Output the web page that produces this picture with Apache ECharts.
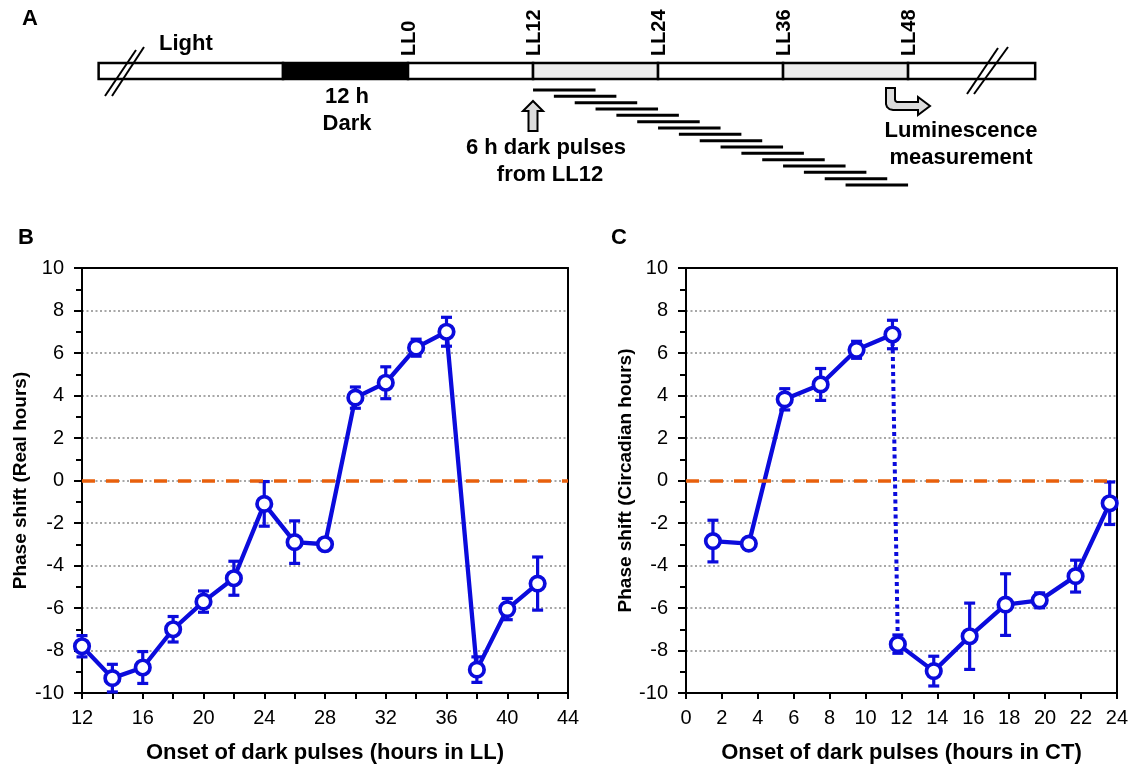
<!DOCTYPE html>
<html>
<head>
<meta charset="utf-8">
<script src="https://cdn.jsdelivr.net/npm/echarts@6/dist/echarts.min.js"></script>
<style>
html,body{margin:0;padding:0;background:#fff;}
#chart{width:1131px;height:769px;}
</style>
</head>
<body>
<div id="chart"></div>
<script>
// ---------- DATA ----------
// Panel A: light schedule (hours relative to LL0)
const scheduleStart = [-29.7, -12, 0, 12, 24, 36, 48];
const scheduleEnd   = [-12, 0, 12, 24, 36, 48, 60.2];
const scheduleKind  = ['light', 'dark', 'light', 'pulse', 'light', 'pulse', 'light'];
const llMarks = [0, 12, 24, 36, 48];
const pulseLength = 6;

// Panel B: onset (hours in LL), phase shift (real hours), error
const bOnset = [12, 14, 16, 18, 20, 22, 24, 26, 28, 30, 32, 34, 36, 38, 40, 42];
const bShift = [-7.8, -9.3, -8.8, -7.0, -5.7, -4.6, -1.1, -2.9, -3.0, 3.9, 4.6, 6.25, 7.0, -8.9, -6.05, -4.85];
const bErr   = [0.5, 0.65, 0.75, 0.6, 0.5, 0.8, 1.05, 1.0, 0.15, 0.5, 0.75, 0.4, 0.68, 0.6, 0.5, 1.25];

// Panel C: onset (hours in CT), phase shift (circadian hours), error
const cOnset = [1.5, 3.5, 5.5, 7.5, 9.5, 11.5, 11.8, 13.8, 15.8, 17.8, 19.7, 21.7, 23.6];
const cShift = [-2.85, -2.97, 3.82, 4.52, 6.15, 6.87, -7.7, -8.97, -7.33, -5.84, -5.64, -4.5, -1.07];
const cErr   = [0.98, 0.15, 0.5, 0.75, 0.4, 0.67, 0.43, 0.7, 1.56, 1.45, 0.35, 0.75, 1.0];
const cBreak = 6; // index where the solid line restarts

// Tick settings
const yTicks = {min: -10, max: 10, interval: 2};

// ---------- STYLE ----------
const BLUE = '#0b0bdc';
const ORANGE = '#e8600c';
const FONT = '"Liberation Sans", Arial, sans-serif';
const AX = {color: '#000', width: 2};
const fillMap = {light: '#ffffff', dark: '#000000', pulse: '#ececec'};

const chart = echarts.init(document.getElementById('chart'), null, {renderer: 'canvas'});

function errRender(params, api) {
  const x = api.value(0), y = api.value(1), e = api.value(2);
  const t = api.coord([x, y + e]);
  const b = api.coord([x, y - e]);
  const hw = 5.5;
  const st = {stroke: BLUE, lineWidth: 3.2};
  return {type: 'group', children: [
    {type: 'line', shape: {x1: t[0], y1: t[1], x2: b[0], y2: b[1]}, style: st},
    {type: 'line', shape: {x1: t[0] - hw, y1: t[1], x2: t[0] + hw, y2: t[1]}, style: st},
    {type: 'line', shape: {x1: b[0] - hw, y1: b[1], x2: b[0] + hw, y2: b[1]}, style: st}
  ]};
}

const barTop = -4.25, barBottom = -1.75;

function xAxisMain(grid, min, max, interval, minor, name) {
  return {
    gridIndex: grid, type: 'value', min: min, max: max, interval: interval, position: 'bottom',
    axisLine: {onZero: false, lineStyle: AX},
    axisTick: {length: 6, lineStyle: AX},
    minorTick: {show: minor, splitNumber: 2, length: 6, lineStyle: AX},
    axisLabel: {color: '#000', fontSize: 20, fontFamily: FONT, margin: 15},
    splitLine: {show: false},
    name: name, nameLocation: 'middle', nameGap: 49,
    nameTextStyle: {color: '#000', fontSize: 22, fontWeight: 'bold', fontFamily: FONT}
  };
}
function xAxisFrame(grid, min, max) {
  return {gridIndex: grid, type: 'value', min: min, max: max, position: 'top',
    axisLine: {onZero: false, lineStyle: AX}, axisTick: {show: false}, axisLabel: {show: false}, splitLine: {show: false}};
}
function yAxisMain(grid, name, gap) {
  return {
    gridIndex: grid, type: 'value', min: yTicks.min, max: yTicks.max, interval: yTicks.interval, position: 'left',
    axisLine: {show: true, onZero: false, lineStyle: AX},
    axisTick: {show: true, length: 8, lineStyle: AX},
    minorTick: {show: true, splitNumber: 2, length: 6, lineStyle: AX},
    axisLabel: {color: '#000', fontSize: 20, fontFamily: FONT, margin: 18},
    splitLine: {show: true, showMinLine: false, showMaxLine: false, lineStyle: {color: '#8a8a8a', width: 1.5, type: [2, 2.5]}},
    name: name, nameLocation: 'middle', nameGap: gap, nameRotate: 90,
    nameTextStyle: {color: '#000', fontSize: 19, fontWeight: 'bold', fontFamily: FONT}
  };
}
function yAxisFrame(grid) {
  return {gridIndex: grid, type: 'value', min: yTicks.min, max: yTicks.max, position: 'right',
    axisLine: {show: true, onZero: false, lineStyle: AX}, axisTick: {show: false}, axisLabel: {show: false}, splitLine: {show: false}};
}

const zeroLine = {
  silent: true, symbol: ['none', 'none'], label: {show: false},
  lineStyle: {color: ORANGE, width: 3.5, type: [13, 11], opacity: 1},
  emphasis: {disabled: true},
  data: [{yAxis: 0}]
};

const symbolStyle = {color: '#fff', borderColor: BLUE, borderWidth: 3.7};
const SYM = 14.5;

function txt(x, y, text, align, size) {
  return {type: 'text', x: x, y: y, z: 100,
    style: {text: text, fill: '#000', font: 'bold ' + (size || 22) + 'px ' + FONT,
      align: align || 'center', verticalAlign: 'middle', textAlign: align || 'center', textVerticalAlign: 'middle'}};
}

const option = {
  animation: false,
  backgroundColor: '#fff',
  grid: [
    {left: 95.5, top: 58.33, width: 948, height: 133},
    {left: 82, top: 268, width: 486, height: 427},
    {left: 686, top: 268, width: 431, height: 427}
  ],
  xAxis: [
    {gridIndex: 0, type: 'value', min: -30, max: 61, show: false},
    xAxisMain(1, 12, 44, 4, true, 'Onset of dark pulses (hours in LL)'),
    xAxisFrame(1, 12, 44),
    xAxisMain(2, 0, 24, 2, false, 'Onset of dark pulses (hours in CT)'),
    xAxisFrame(2, 0, 24)
  ],
  yAxis: [
    {gridIndex: 0, type: 'value', min: -5, max: 16, inverse: true, show: false},
    yAxisMain(1, 'Phase shift (Real hours)', 52),
    yAxisFrame(1),
    yAxisMain(2, 'Phase shift (Circadian hours)', 47),
    yAxisFrame(2)
  ],
  series: [
    // ---- Panel A ----
    {
      type: 'custom', xAxisIndex: 0, yAxisIndex: 0, silent: true, z: 5,
      data: scheduleStart.map((s, i) => [s, scheduleEnd[i], i]),
      encode: {x: [0, 1]},
      renderItem: function (params, api) {
        const i = api.value(2);
        const a = api.coord([api.value(0), barTop]);
        const b = api.coord([api.value(1), barBottom]);
        return {type: 'rect', shape: {x: a[0], y: a[1], width: b[0] - a[0], height: b[1] - a[1]},
          style: {fill: fillMap[scheduleKind[i]], stroke: '#000', lineWidth: 2.5}};
      }
    },
    {
      type: 'custom', xAxisIndex: 0, yAxisIndex: 0, silent: true, z: 5,
      data: bOnset.map((s, i) => [s, i]),
      encode: {x: 0, y: 1},
      renderItem: function (params, api) {
        const s = api.value(0), r = api.value(1);
        const a = api.coord([s, r]);
        const b = api.coord([s + pulseLength, r]);
        return {type: 'line', shape: {x1: a[0], y1: a[1], x2: b[0], y2: b[1]}, style: {stroke: '#000', lineWidth: 3}};
      }
    },
    {
      type: 'custom', xAxisIndex: 0, yAxisIndex: 0, silent: true, z: 5,
      data: llMarks.map(v => [v]),
      encode: {x: 0},
      renderItem: function (params, api) {
        const v = api.value(0);
        const p = api.coord([v, barTop]);
        return {type: 'text', x: p[0] + 1, y: p[1] - 7, rotation: Math.PI / 2,
          style: {text: 'LL' + v, fill: '#000', font: 'bold 20px ' + FONT,
            align: 'left', verticalAlign: 'middle', textAlign: 'left', textVerticalAlign: 'middle'}};
      }
    },
    // ---- Panel B ----
    {
      type: 'custom', xAxisIndex: 1, yAxisIndex: 1, silent: true, z: 2,
      data: bOnset.map((x, i) => [x, bShift[i], bErr[i]]),
      encode: {x: 0, y: 1},
      renderItem: errRender,
      markLine: zeroLine
    },
    {
      type: 'line', xAxisIndex: 1, yAxisIndex: 1, z: 3, silent: true,
      data: bOnset.map((x, i) => [x, bShift[i]]),
      symbol: 'circle', symbolSize: SYM, showAllSymbol: true,
      lineStyle: {color: BLUE, width: 4.3},
      itemStyle: symbolStyle
    },
    // ---- Panel C ----
    {
      type: 'custom', xAxisIndex: 3, yAxisIndex: 3, silent: true, z: 2,
      data: cOnset.map((x, i) => [x, cShift[i], cErr[i]]),
      encode: {x: 0, y: 1},
      renderItem: errRender,
      markLine: zeroLine
    },
    {
      type: 'line', xAxisIndex: 3, yAxisIndex: 3, z: 2, silent: true, symbol: 'none',
      data: cOnset.slice(cBreak - 1, cBreak + 1).map((x, i) => [x, cShift[cBreak - 1 + i]]),
      lineStyle: {color: BLUE, width: 4, type: [4, 3.5]}
    },
    {
      type: 'line', xAxisIndex: 3, yAxisIndex: 3, z: 3, silent: true,
      data: cOnset.slice(0, cBreak).map((x, i) => [x, cShift[i]]),
      symbol: 'circle', symbolSize: SYM, showAllSymbol: true,
      lineStyle: {color: BLUE, width: 4.3},
      itemStyle: symbolStyle
    },
    {
      type: 'line', xAxisIndex: 3, yAxisIndex: 3, z: 3, silent: true,
      data: cOnset.slice(cBreak).map((x, i) => [x, cShift[cBreak + i]]),
      symbol: 'circle', symbolSize: SYM, showAllSymbol: true,
      lineStyle: {color: BLUE, width: 4.3},
      itemStyle: symbolStyle
    }
  ],
  graphic: [
    txt(22, 19, 'A', 'left', 22),
    txt(18, 238, 'B', 'left', 22),
    txt(611, 238, 'C', 'left', 22),
    txt(159, 44, 'Light', 'left', 22),
    txt(347, 97, '12 h', 'center', 22),
    txt(347, 124, 'Dark', 'center', 22),
    txt(546, 148, '6 h dark pulses', 'center', 22),
    txt(550, 175, 'from LL12', 'center', 22),
    txt(961, 131, 'Luminescence', 'center', 22),
    txt(961, 158, 'measurement', 'center', 22),
    // break marks
    {type: 'line', z: 100, shape: {x1: 105, y1: 96, x2: 136, y2: 50}, style: {stroke: '#000', lineWidth: 2}},
    {type: 'line', z: 100, shape: {x1: 112, y1: 96, x2: 144, y2: 47}, style: {stroke: '#000', lineWidth: 2}},
    {type: 'line', z: 100, shape: {x1: 967, y1: 94, x2: 998, y2: 48}, style: {stroke: '#000', lineWidth: 2}},
    {type: 'line', z: 100, shape: {x1: 974, y1: 94, x2: 1008, y2: 47}, style: {stroke: '#000', lineWidth: 2}},
    // hollow up arrow at LL12
    {type: 'polygon', z: 100, shape: {points: [[533, 101], [543, 111], [537.5, 111], [537.5, 131], [528.5, 131], [528.5, 111], [523, 111]]},
      style: {fill: '#dcdcdc', stroke: '#000', lineWidth: 2}},
    // bent arrow near LL48
    {type: 'polygon', z: 100, shape: {points: [[886, 88], [886, 104], [887, 107], [889.5, 109.2], [893, 110], [918, 110], [918, 115], [930, 106], [918, 97], [918, 102], [897, 102], [895.5, 101], [895, 99.5], [895, 88]]},
      style: {fill: '#dcdcdc', stroke: '#000', lineWidth: 2}}
  ]
};

chart.setOption(option);
</script>
</body>
</html>
